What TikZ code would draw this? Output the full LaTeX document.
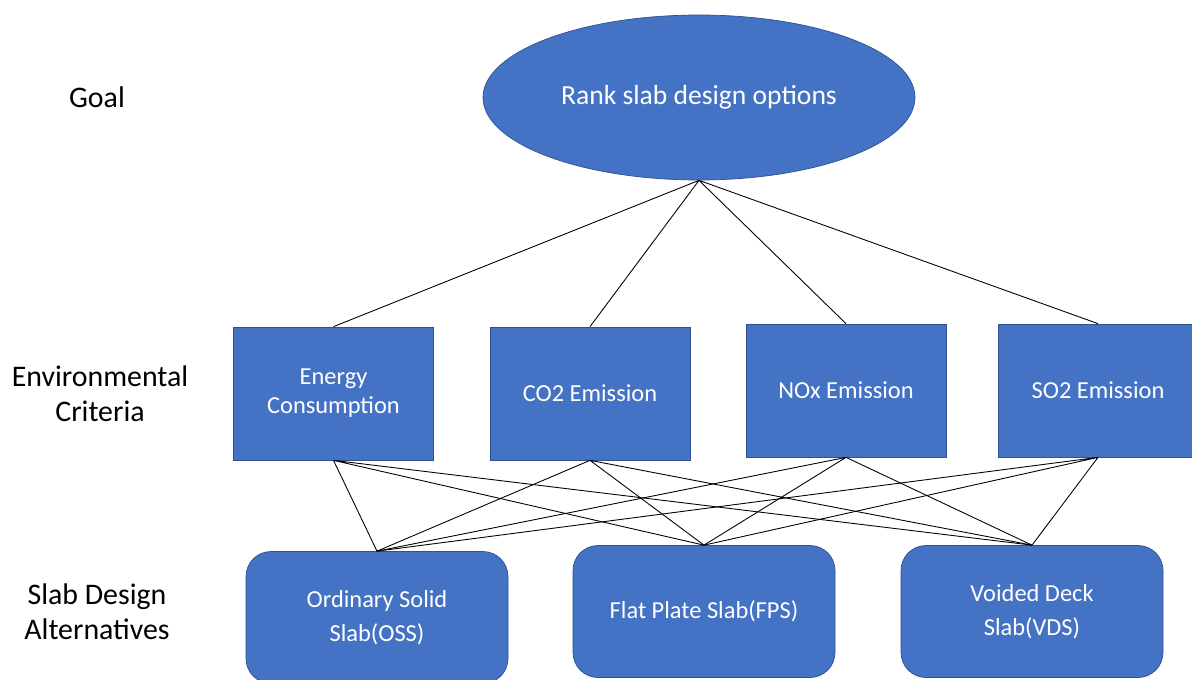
\documentclass[tikz,border=0pt]{standalone}
\usepackage{fontspec}
\setmainfont{Carlito}
\usetikzlibrary{shapes.geometric}
\definecolor{boxfill}{HTML}{4472C4}
\definecolor{boxedge}{HTML}{2F528F}
\begin{document}
\begin{tikzpicture}[
  side/.style={font=\fontsize{17}{19.8}\selectfont, align=center},
  crit/.style={draw=boxedge, fill=boxfill, text=white, align=center, inner sep=2pt,
    minimum width=4cm, minimum height=2.66cm, font=\fontsize{13.9}{16.4}\selectfont},
  alt/.style={crit, rounded corners=0.5cm, minimum width=5.24cm, minimum height=2.64cm,
    font=\fontsize{13.9}{19.3}\selectfont},
  link/.style={black, line width=0.5pt}
]
  \useasboundingbox (0,0) rectangle (23.84,-13.6);

  % level names
  \node[side] (lgoal) at (1.94,-1.94) {Goal};
  \node[side] (lcrit) at (2.0,-7.87) {Environmental\\Criteria};
  \node[side] (lalt) at (1.94,-12.24) {Slab Design\\Alternatives};

  % goal
  \node[ellipse, draw=boxedge, fill=boxfill, text=white, inner sep=0pt,
        minimum width=8.64cm, minimum height=3.3cm,
        font=\fontsize{15.7}{19}\selectfont] (goal) at (13.98,-1.95) {Rank slab design options};

  % criteria
  \node[crit] (en) at (6.67,-7.87) {Energy\\Consumption};
  \node[crit] (co) at (11.8,-7.87) {CO2 Emission};
  \node[crit] (no) at (16.92,-7.81) {NOx Emission};
  \node[crit] (so) at (21.96,-7.81) {SO2 Emission};

  % alternatives
  \node[alt] (oss) at (7.54,-12.35) {Ordinary Solid\\Slab(OSS)};
  \node[alt] (fps) at (14.08,-12.23) {Flat Plate Slab(FPS)};
  \node[alt] (vds) at (20.64,-12.23) {Voided Deck\\Slab(VDS)};

  % goal to criteria
  \draw[link] (goal.south) -- (en.north) (goal.south) -- (co.north)
    (goal.south) -- (no.north) (goal.south) -- (so.north);

  % criteria to alternatives
  \draw[link] (en.south) -- (oss.north) (en.south) -- (fps.north) (en.south) -- (vds.north);
  \draw[link] (co.south) -- (oss.north) (co.south) -- (fps.north) (co.south) -- (vds.north);
  \draw[link] (no.south) -- (oss.north) (no.south) -- (fps.north) (no.south) -- (vds.north);
  \draw[link] (so.south) -- (oss.north) (so.south) -- (fps.north) (so.south) -- (vds.north);
\end{tikzpicture}
\end{document}
